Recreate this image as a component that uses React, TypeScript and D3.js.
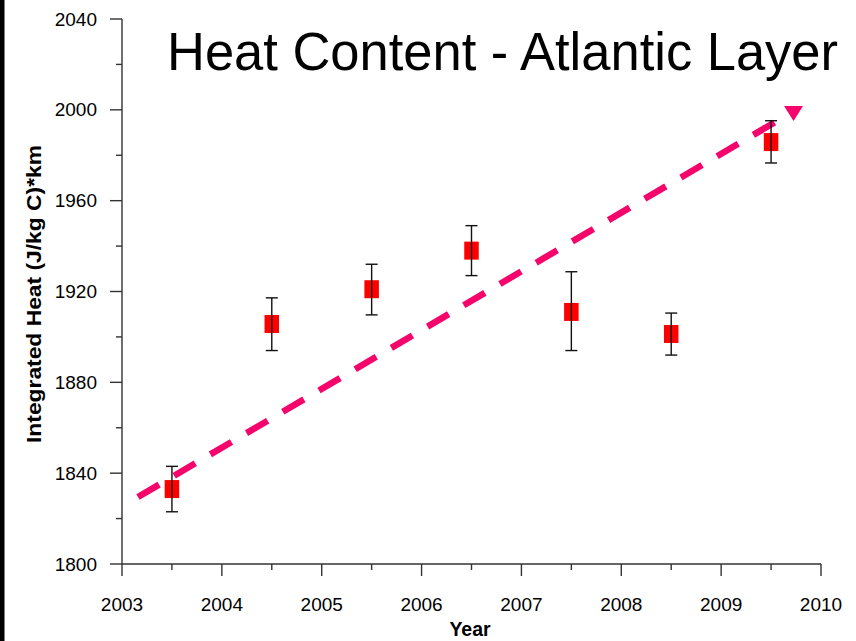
import React, { useEffect, useRef } from 'react';
import * as d3 from 'd3';

// data
const years = [2003.5, 2004.5, 2005.5, 2006.5, 2007.5, 2008.5, 2009.5];
const heat = [1833, 1905.7, 1921, 1938, 1911, 1901.3, 1985.8];
const errUp = [10, 11.5, 11, 11, 17.7, 9.2, 9.4];
const errDown = [10, 11.7, 11.3, 11, 17, 9.3, 9.2];

const trendX = [2003.16, 2009.54];
const trendY = [1829.5, 1994.6];
const arrowTip = [2009.72, 1999.5];

const xTicks = [2003, 2004, 2005, 2006, 2007, 2008, 2009, 2010];
const yTicks = [1800, 1840, 1880, 1920, 1960, 2000, 2040];

const title = 'Heat Content - Atlantic Layer';
const yLabel = 'Integrated Heat (J/kg C)*km';
const xLabel = 'Year';

const W = 856;
const H = 641;

const App: React.FC = () => {
  const svgRef = useRef<SVGSVGElement | null>(null);

  useEffect(() => {
    const svg = d3.select(svgRef.current);
    svg.selectAll('*').remove();

    const x = d3.scaleLinear().domain([2003, 2010]).range([122, 821]);
    const y = d3.scaleLinear().domain([1800, 2040]).range([564, 19]);
    const font = '"Liberation Sans", Arial, sans-serif';
    const axisColor = '#333';

    svg.append('rect').attr('width', W).attr('height', H).attr('fill', '#fff');
    svg.append('rect').attr('width', 4.5).attr('height', H).attr('fill', '#000');

    // title
    svg.append('text')
      .attr('x', 167).attr('y', 70)
      .attr('font-family', font).attr('font-size', 54)
      .attr('textLength', 671).attr('lengthAdjust', 'spacingAndGlyphs')
      .attr('fill', '#000')
      .text(title);

    // x axis
    const xMinor = d3.range(2003.5, 2010, 1);
    const gx = svg.append('g').attr('transform', `translate(0,${y(1800)})`);
    gx.append('line').attr('x1', x(2003)).attr('x2', x(2010))
      .attr('stroke', axisColor).attr('stroke-width', 1.4);
    gx.selectAll('line.major').data(xTicks).enter().append('line')
      .attr('x1', (d) => x(d)).attr('x2', (d) => x(d))
      .attr('y1', 0).attr('y2', 12)
      .attr('stroke', axisColor).attr('stroke-width', 1.4);
    gx.selectAll('line.minor').data(xMinor).enter().append('line')
      .attr('x1', (d) => x(d)).attr('x2', (d) => x(d))
      .attr('y1', 0).attr('y2', 6)
      .attr('stroke', axisColor).attr('stroke-width', 1.4);
    gx.selectAll('text').data(xTicks).enter().append('text')
      .attr('x', (d) => x(d)).attr('y', 46.5)
      .attr('text-anchor', 'middle')
      .attr('font-family', font).attr('font-size', 19)
      .text((d) => d);

    // y axis
    const yMinor = d3.range(1820, 2040, 40);
    const gy = svg.append('g').attr('transform', `translate(${x(2003)},0)`);
    gy.append('line').attr('y1', y(1800)).attr('y2', y(2040))
      .attr('stroke', axisColor).attr('stroke-width', 1.4);
    gy.selectAll('line.major').data(yTicks).enter().append('line')
      .attr('y1', (d) => y(d)).attr('y2', (d) => y(d))
      .attr('x1', 0).attr('x2', -12)
      .attr('stroke', axisColor).attr('stroke-width', 1.4);
    gy.selectAll('line.minor').data(yMinor).enter().append('line')
      .attr('y1', (d) => y(d)).attr('y2', (d) => y(d))
      .attr('x1', 0).attr('x2', -6)
      .attr('stroke', axisColor).attr('stroke-width', 1.4);
    gy.selectAll('text').data(yTicks).enter().append('text')
      .attr('x', -25).attr('y', (d) => y(d))
      .attr('dy', '0.35em')
      .attr('text-anchor', 'end')
      .attr('font-family', font).attr('font-size', 19)
      .text((d) => d);

    // axis titles
    svg.append('text')
      .attr('transform', `translate(41,${294}) rotate(-90)`)
      .attr('text-anchor', 'middle')
      .attr('font-family', font).attr('font-size', 20.5).attr('font-weight', 'bold')
      .attr('textLength', 298).attr('lengthAdjust', 'spacingAndGlyphs')
      .text(yLabel);
    svg.append('text')
      .attr('x', 470).attr('y', 636)
      .attr('text-anchor', 'middle')
      .attr('font-family', font).attr('font-size', 19.5).attr('font-weight', 'bold')
      .text(xLabel);

    // trend line
    const line = d3.line<number>().x((_, i) => x(trendX[i])).y((d) => y(d));
    const pink = '#f5056b';
    svg.append('path')
      .attr('d', line(trendY))
      .attr('fill', 'none')
      .attr('stroke', pink)
      .attr('stroke-width', 6.5)
      .attr('stroke-dasharray', '24.5,17.5');
    const ax = x(arrowTip[0]);
    const ay = y(arrowTip[1]);
    svg.append('polygon')
      .attr('points', `${ax - 9},${ay - 5} ${ax + 10},${ay - 5} ${ax + 0.5},${ay + 10}`)
      .attr('fill', pink);

    // points
    const pts = svg.append('g');
    pts.selectAll('rect').data(heat).enter().append('rect')
      .attr('x', (_, i) => x(years[i]) - 7.25)
      .attr('y', (d) => y(d) - 9)
      .attr('width', 14.5).attr('height', 18)
      .attr('fill', '#ff0000');

    // error bars
    const eb = svg.append('g').attr('stroke', '#111').attr('stroke-width', 1.4);
    heat.forEach((d, i) => {
      const cx = x(years[i]);
      const top = y(d + errUp[i]);
      const bot = y(d - errDown[i]);
      eb.append('line').attr('x1', cx).attr('x2', cx).attr('y1', top).attr('y2', bot);
      eb.append('line').attr('x1', cx - 6).attr('x2', cx + 6).attr('y1', top).attr('y2', top);
      eb.append('line').attr('x1', cx - 6).attr('x2', cx + 6).attr('y1', bot).attr('y2', bot);
    });
  }, []);

  return (
    <svg
      ref={svgRef}
      width={W}
      height={H}
      style={{ position: 'absolute', left: 0, top: 0, display: 'block' }}
    ></svg>
  );
};

export default App;
